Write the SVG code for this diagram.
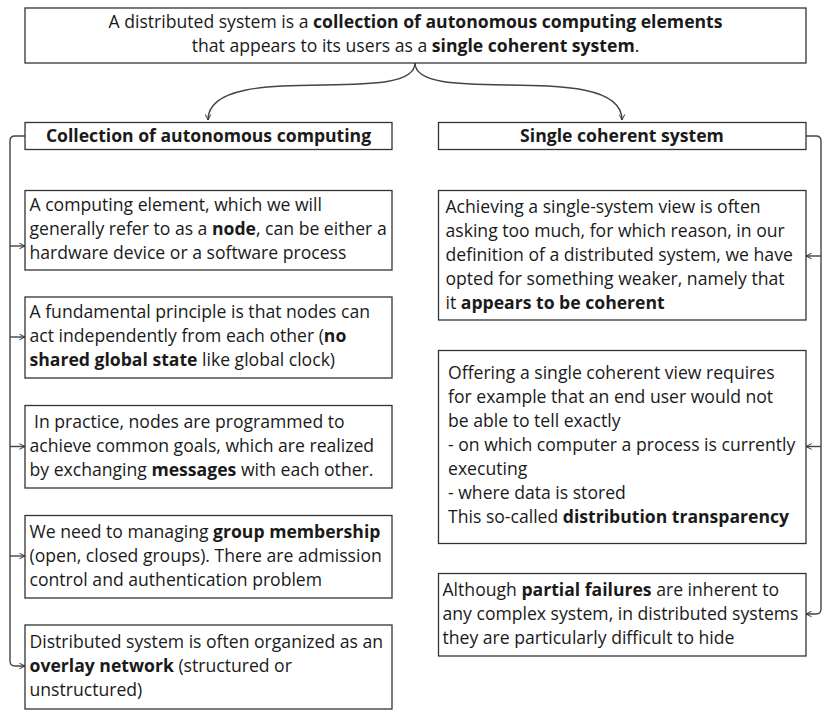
<svg xmlns="http://www.w3.org/2000/svg" width="828" height="719" viewBox="0 0 828 719">
<defs>
<marker id="arr" viewBox="0 0 10 10" refX="9" refY="5" markerWidth="7" markerHeight="7" orient="auto" markerUnits="userSpaceOnUse">
<path d="M1,1 L9,5 L1,9" fill="none" stroke="#333" stroke-width="1.4"/>
</marker>
</defs>
<style>
rect{fill:#fff;stroke:#333;stroke-width:1.3}
text{font-family:"Open Sans","Noto Sans","Liberation Sans",sans-serif;font-size:17.6px;fill:#1a1a1a}
.b{font-weight:bold}
.c{text-anchor:middle}
.ln{fill:none;stroke:#444;stroke-width:1.4}
</style>
<rect x="0" y="0" width="828" height="719" style="fill:#fff;stroke:none"/>
<g id="connectors">
<path class="ln" d="M415,63 C415,108 208,58 208,120" marker-end="url(#arr)"/>
<path class="ln" d="M415,63 C415,108 622,58 622,120" marker-end="url(#arr)"/>
<path class="ln" d="M25,136 L15,136 Q10,136 10,141 L10,661 Q10,666 15,666 L25,666" marker-end="url(#arr)"/>
<path class="ln" d="M10,246 L25,246" marker-end="url(#arr)"/>
<path class="ln" d="M10,337 L25,337" marker-end="url(#arr)"/>
<path class="ln" d="M10,446.5 L25,446.5" marker-end="url(#arr)"/>
<path class="ln" d="M10,556 L25,556" marker-end="url(#arr)"/>
<path class="ln" d="M806,136 L816,136 Q821,136 821,141 L821,609 Q821,614 816,614 L806,614" marker-end="url(#arr)"/>
<path class="ln" d="M821,256 L806,256" marker-end="url(#arr)"/>
<path class="ln" d="M821,446.5 L806,446.5" marker-end="url(#arr)"/>
</g>
<g id="root">
<rect x="25" y="8" width="781" height="55"/>
<text class="c" x="415.5" y="28">A distributed system is a <tspan class="b">collection of autonomous computing elements</tspan></text>
<text class="c" x="415.5" y="52">that appears to its users as a <tspan class="b">single coherent system</tspan>.</text>
</g>
<g id="left-header">
<rect x="25" y="122.5" width="367" height="27"/>
<text class="c b" x="208.5" y="142">Collection of autonomous computing</text>
</g>
<g id="right-header">
<rect x="438.5" y="122.5" width="367.5" height="27"/>
<text class="c b" x="622" y="142">Single coherent system</text>
</g>
<g id="l1">
<rect x="25" y="190.5" width="367" height="79.5"/>
<text x="29.5" y="211">A computing element, which we will</text>
<text x="29.5" y="235">generally refer to as a <tspan class="b">node</tspan>, can be either a</text>
<text x="29.5" y="259">hardware device or a software process</text>
</g>
<g id="l2">
<rect x="25" y="297" width="367" height="81"/>
<text x="29.5" y="318">A fundamental principle is that nodes can</text>
<text x="29.5" y="342">act independently from each other (<tspan class="b">no</tspan></text>
<text x="29.5" y="366"><tspan class="b">shared global state</tspan> like global clock)</text>
</g>
<g id="l3">
<rect x="25" y="405.5" width="367" height="82.5"/>
<text x="34" y="428">In practice, nodes are programmed to</text>
<text x="29.5" y="452">achieve common goals, which are realized</text>
<text x="29.5" y="476">by exchanging <tspan class="b">messages</tspan> with each other.</text>
</g>
<g id="l4">
<rect x="25" y="515.5" width="367" height="82.5"/>
<text x="29.5" y="538">We need to managing <tspan class="b">group membership</tspan></text>
<text x="29.5" y="562">(open, closed groups). There are admission</text>
<text x="29.5" y="586">control and authentication problem</text>
</g>
<g id="l5">
<rect x="25" y="625" width="367" height="84"/>
<text x="29.5" y="648">Distributed system is often organized as an</text>
<text x="29.5" y="672"><tspan class="b">overlay network</tspan> (structured or</text>
<text x="29.5" y="696">unstructured)</text>
</g>
<g id="r1">
<rect x="438.5" y="190.5" width="367.5" height="129.5"/>
<text x="445.5" y="212.5">Achieving a single-system view is often</text>
<text x="445.5" y="236.5">asking too much, for which reason, in our</text>
<text x="445.5" y="260.5">definition of a distributed system, we have</text>
<text x="445.5" y="284.5">opted for something weaker, namely that</text>
<text x="445.5" y="308.5">it <tspan class="b">appears to be coherent</tspan></text>
</g>
<g id="r2">
<rect x="438.5" y="350.5" width="367.5" height="193"/>
<text x="448" y="379">Offering a single coherent view requires</text>
<text x="448" y="403">for example that an end user would not</text>
<text x="448" y="427">be able to tell exactly</text>
<text x="448" y="451">- on which computer a process is currently</text>
<text x="448" y="475">executing</text>
<text x="448" y="499">- where data is stored</text>
<text x="448" y="523">This so-called <tspan class="b">distribution transparency</tspan></text>
</g>
<g id="r3">
<rect x="438.5" y="573.5" width="367.5" height="82.5"/>
<text x="442.5" y="596">Although <tspan class="b">partial failures</tspan> are inherent to</text>
<text x="442.5" y="620">any complex system, in distributed systems</text>
<text x="442.5" y="644">they are particularly difficult to hide</text>
</g>
</svg>
